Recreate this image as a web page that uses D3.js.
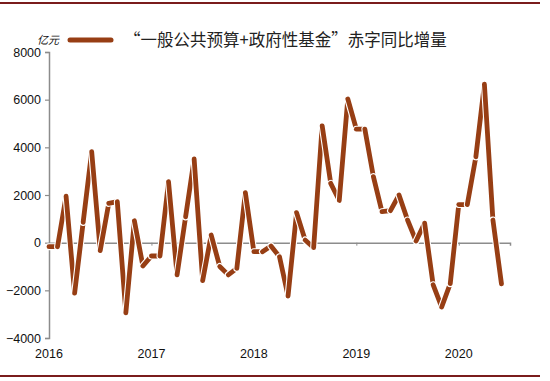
<!DOCTYPE html>
<html lang="zh">

<head>
  <meta charset="UTF-8">
  <title>赤字同比增量</title>
  <style>
    html,
    body {
      margin: 0;
      background: #fff;
    }

    svg text {
      font-family: "Liberation Sans", Arial, sans-serif;
      fill: #111;
    }

    .cjk {
      font-family: "Noto Sans CJK SC", sans-serif;
    }
  </style>
</head>

<body>
  <div id="main"></div>

  <script src="https://cdn.jsdelivr.net/npm/d3@7"></script>

  <script>
    // 月度数据 2016-01 ~ 2020-06（亿元）
    const values = [
      -170, -170, 1950, -2120, 850, 3820, -330, 1650, 1720, -2940, 920, -980,
      -560, -560, 2560, -1350, 1080, 3510, -1590, 320, -1000, -1350, -1080, 2100,
      -380, -380, -140, -590, -2240, 1260, 110, -210, 4900, 2490, 1770, 6030,
      4760, 4760, 2770, 1300, 1340, 2000, 950, 70, 820, -1770, -2700, -1720,
      1600, 1600, 3600, 6650, 950, -1730
    ]
    const years = ['2016', '2017', '2018', '2019', '2020']
    const yTicks = [-4000, -2000, 0, 2000, 4000, 6000, 8000]
    const unit = '亿元'
    const legendLabel = '“一般公共预算+政府性基金”赤字同比增量'

    const width = 550
    const height = 381

    const svg = d3.select('#main').append('svg')
      .attr('width', width)
      .attr('height', height)

    const x = d3.scaleLinear().domain([0, 54]).range([49, 510])
    const y = d3.scaleLinear().domain([-4000, 8000]).range([338, 52])

    // 上下边框线
    svg.selectAll('.border')
      .data([3, 376])
      .join('line')
      .attr('x1', 0).attr('x2', 540)
      .attr('y1', d => d).attr('y2', d => d)
      .attr('stroke', '#7a1c1c')
      .attr('stroke-width', 2)

    // y 轴
    const yAxis = svg.append('g')
      .attr('transform', `translate(${x(0)},0)`)
      .call(d3.axisLeft(y).tickValues(yTicks).tickSize(4).tickPadding(4).tickFormat(d3.format('d')))
    yAxis.select('.domain').attr('stroke', '#8c8c8c').attr('stroke-width', 1.5)
    yAxis.selectAll('.tick line').attr('stroke', '#8c8c8c').attr('stroke-width', 1.2)
    yAxis.selectAll('text').attr('font-size', 12.5).style('fill', '#111')

    // 零线 + 年份刻度
    const xAxis = svg.append('g')
      .attr('transform', `translate(0,${y(0)})`)
      .call(d3.axisBottom(x).tickValues([0, 12, 24, 36, 48]).tickSize(3).tickFormat(''))
    xAxis.select('.domain').attr('stroke', '#8c8c8c').attr('stroke-width', 1.5)
    xAxis.selectAll('.tick line').attr('stroke', '#8c8c8c')

    svg.selectAll('.year')
      .data(years)
      .join('text')
      .attr('class', 'year')
      .attr('x', (d, i) => x(i * 12))
      .attr('y', 358)
      .attr('text-anchor', 'middle')
      .attr('font-size', 12.5)
      .text(d => d)

    // 折线：逐段绘制，带白色描边
    const segs = d3.pairs(values.map((v, i) => [i, v]))
    const seg = svg.append('g').selectAll('g')
      .data(segs)
      .join('g')
    seg.append('line')
      .attr('x1', d => x(d[0][0])).attr('y1', d => y(d[0][1]))
      .attr('x2', d => x(d[1][0])).attr('y2', d => y(d[1][1]))
      .attr('stroke', '#fff')
      .attr('stroke-width', 7)
      .attr('stroke-linecap', 'round')
    seg.append('line')
      .attr('x1', d => x(d[0][0])).attr('y1', d => y(d[0][1]))
      .attr('x2', d => x(d[1][0])).attr('y2', d => y(d[1][1]))
      .attr('stroke', '#973e14')
      .attr('stroke-width', 4.8)
      .attr('stroke-linecap', 'round')

    // 图例
    svg.append('text')
      .attr('class', 'cjk')
      .attr('x', 37)
      .attr('y', 44)
      .attr('font-size', 11)
      .attr('font-style', 'italic')
      .text(unit)
    svg.append('line')
      .attr('x1', 70).attr('x2', 111)
      .attr('y1', 40).attr('y2', 40)
      .attr('stroke', '#973e14')
      .attr('stroke-width', 5)
      .attr('stroke-linecap', 'round')
    svg.append('text')
      .attr('class', 'cjk')
      .attr('x', 124)
      .attr('y', 46)
      .attr('font-size', 16.5)
      .style('fill', '#222')
      .text(legendLabel)
  </script>
</body>

</html>
